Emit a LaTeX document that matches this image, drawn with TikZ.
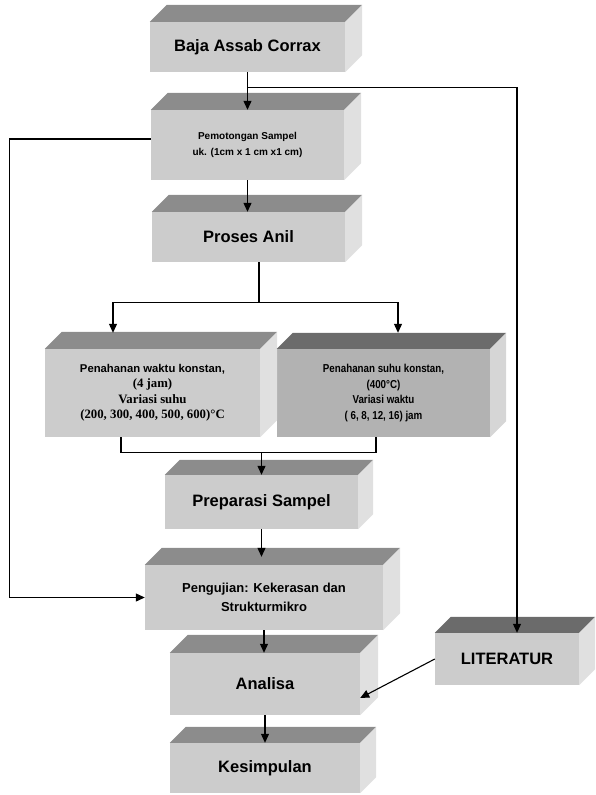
\documentclass[tikz,border=0pt]{standalone}
\usepackage{fontspec}
\setmainfont{Liberation Sans}
\newfontfamily\timesfont{Liberation Serif}
\newfontfamily\narrowfont[FakeStretch=0.85]{Liberation Sans}
\usepackage{tikz}
\usetikzlibrary{arrows.meta}
\usetikzlibrary{calc}

\definecolor{frontgray}{gray}{0.80}
\definecolor{topgray}{gray}{0.55}
\definecolor{sidegray}{gray}{0.88}
\definecolor{frontdark}{gray}{0.70}
\definecolor{topdark}{gray}{0.42}
\definecolor{sidedark}{gray}{0.84}

\begin{document}
\begin{tikzpicture}[x=1pt, y=-1pt,
        box_style/.style={rectangle, fill=frontgray, inner sep=0pt, align=center},
        big_font/.style={font=\fontsize{16.5}{20}\selectfont\bfseries},
        line_style/.style={draw=black, line width=1.1pt},
        arrow_style/.style={draw=black, line width=1.1pt, -{Triangle[length=9pt,width=8pt]}}]
        \useasboundingbox (0,0) rectangle (595,795);

        \node [box_style, big_font, minimum width=195pt, minimum height=50pt] (baja) at (247.5,47) {Baja Assab Corrax};
        \node [box_style, minimum width=193pt, minimum height=70pt, font=\fontsize{10}{16}\selectfont\bfseries] (potong) at (247.5,145) {Pemotongan Sampel\\uk. (1cm x 1 cm x1 cm)};
        \node [box_style, big_font, minimum width=193pt, minimum height=50pt] (anil) at (248.5,237) {Proses Anil};
        \node [box_style, minimum width=215pt, minimum height=88pt, font=\fontsize{12.8}{15.5}\selectfont\bfseries] (waktu) at (152.5,393) {{\fontsize{11.3}{15.5}\selectfont Penahanan waktu konstan,}\\{\timesfont (4 jam)}\\{\timesfont Variasi suhu}\\{\timesfont (200, 300, 400, 500, 600)°C}};
        \node [box_style, fill=frontdark, minimum width=213pt, minimum height=88pt, font=\narrowfont\fontsize{11.5}{15.5}\selectfont\bfseries] (suhu) at (383.5,393) {Penahanan suhu konstan,\\(400°C)\\Variasi waktu\\( 6, 8, 12, 16) jam};
        \node [box_style, big_font, minimum width=193pt, minimum height=54pt] (prep) at (261.5,502) {Preparasi Sampel};
        \node [box_style, minimum width=238pt, minimum height=65pt, font=\fontsize{13}{19}\selectfont\bfseries] (uji) at (264,597.5) {Pengujian: Kekerasan dan\\Strukturmikro};
        \node [box_style, big_font, minimum width=190pt, minimum height=62pt] (analisa) at (265,684) {Analisa};
        \node [box_style, big_font, minimum width=190pt, minimum height=50pt] (simpul) at (265,768) {Kesimpulan};
        \node [box_style, big_font, minimum width=144pt, minimum height=52pt] (literatur) at (507,659) {LITERATUR};

        % top and side faces
        \foreach \n/\d/\tc/\sc in {baja/17/topgray/sidegray, potong/17/topgray/sidegray, anil/17/topgray/sidegray,
                waktu/17/topgray/sidegray, suhu/16/topdark/sidedark, prep/15/topgray/sidegray,
                uji/17/topgray/sidegray, analisa/18/topgray/sidegray, simpul/16/topgray/sidegray,
                literatur/16/topdark/sidegray}
        {
            \fill [\tc] (\n.north west) -- ++(\d,-\d) -- ($(\n.north east)+(\d,-\d)$) -- (\n.north east) -- cycle;
            \fill [\sc] (\n.north east) -- ++(\d,-\d) -- ($(\n.south east)+(\d,-\d)$) -- (\n.south east) -- cycle;
        }

        \coordinate (branch) at ($(baja.south)+(0,15)$);
        \draw [arrow_style] (baja) -- (potong);
        \draw [arrow_style] (branch) -| ([xshift=10pt]literatur.north);
        \draw [arrow_style] ([yshift=6pt]potong.west) -- ++(-141,0) |- (uji.west);
        \draw [arrow_style] (potong.south) -- (potong.south |- anil.north);
        \draw [line_style] ([xshift=10.5pt]anil.south) -- ++(0,40) coordinate (split);
        \draw [arrow_style] (split) -| ($(waktu.north)+(-39.5,-16)$);
        \draw [arrow_style] (split) -| ($(suhu.north)+(14.5,-16)$);
        \draw [line_style] ([xshift=-31.5pt]waktu.south) -- ++(0,15) coordinate (joinl) -| ([xshift=-7.5pt]suhu.south);
        \draw [arrow_style] (joinl -| prep.north) -- (prep.north);
        \draw [arrow_style] (prep.south) -- ($(prep.south |- uji.north)+(0,-8)$);
        \draw [arrow_style] (uji.south) -- (uji.south |- analisa.north);
        \draw [arrow_style] (analisa) -- (simpul);
        \draw [arrow_style] (literatur.west) -- ([yshift=-14pt]analisa.east);
\end{tikzpicture}
\end{document}
